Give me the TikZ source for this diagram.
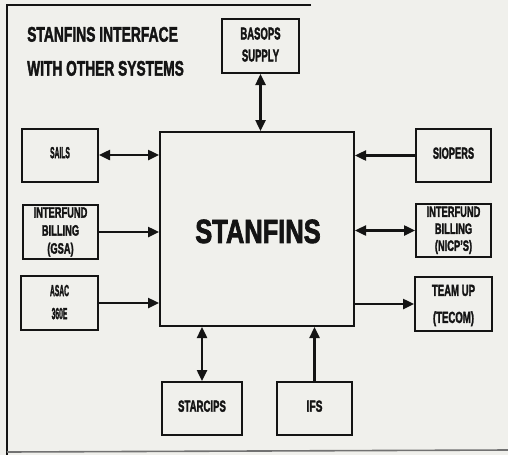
\documentclass[tikz,border=0pt]{standalone}
\usepackage{fontspec}
\setmainfont{Liberation Sans}[BoldFeatures={FakeBold=2.5}]
\usetikzlibrary{arrows.meta}
\definecolor{paper}{RGB}{240,240,236}
\definecolor{ink}{RGB}{20,20,20}
\newcommand\ml[4]{\scalebox{#1}[1]{\fontsize{#2}{#3}\selectfont\bfseries\begin{tabular}{@{}c@{}}#4\end{tabular}}}
\begin{document}
\begin{tikzpicture}[x=1pt,y=-1pt,
  box/.style={draw=ink, line width=2pt, inner sep=0pt, text=ink},
  link/.style={draw=ink, line width=2.4pt},
  onetip/.style={link, -{Triangle[length=11pt,width=10pt]}},
  twotip/.style={link, {Triangle[length=11pt,width=10pt]}-{Triangle[length=11pt,width=10pt]}},
  frameline/.style={draw=ink, line width=1.6pt}]
\fill[paper] (0,0) rectangle (508,455);
\useasboundingbox (0,0) rectangle (508,455);
% frame
\coordinate (ftl) at (7,5);
\coordinate (ftr) at (311,5);
\coordinate (fbl) at (7,455);
\coordinate (fbb) at (7,452);
\coordinate (fbr) at (508,450);
\draw[frameline] (ftr) -- (ftl) -- (fbl);
\draw[frameline, draw=ink!60] (fbb) -- (fbr);
% title
\node[anchor=base west, inner sep=0pt, text=ink] (t1) at (27,42) {\ml{0.66}{21}{24}{STANFINS INTERFACE}};
\node[anchor=base west, inner sep=0pt, text=ink] (t2) at (27,76) {\ml{0.655}{21}{24}{WITH OTHER SYSTEMS}};
% central box
\node[box, minimum width=194pt, minimum height=194pt] (stanfins) at (257,229) {};
\node[anchor=base, inner sep=0pt, text=ink] (stanlabel) at (258,242) {\ml{0.76}{33.5}{36}{STANFINS}};
% boxes
\node[box, minimum width=77pt, minimum height=54pt] (basops) at (260.5,46) {\ml{0.56}{17}{22}{BASOPS\\SUPPLY}};
\node[box, minimum width=76pt, minimum height=53pt] (sails) at (60,155) {\ml{0.42}{16}{16}{SAILS}};
\node[box, minimum width=75pt, minimum height=52pt] (gsa) at (60.5,232) {\ml{0.62}{15}{18}{INTERFUND\\BILLING\\(GSA)}};
\node[box, minimum width=77pt, minimum height=54pt] (asac) at (59.5,303) {\ml{0.42}{16}{23}{ASAC\\360E}};
\node[box, minimum width=75pt, minimum height=53pt] (siopers) at (453.5,155.5) {\ml{0.58}{16}{16}{SIOPERS}};
\node[box, minimum width=75pt, minimum height=53pt] (nicp) at (453.5,230.5) {\ml{0.62}{15}{17}{INTERFUND\\BILLING\\(NICP'S)}};
\node[box, minimum width=77pt, minimum height=54pt] (teamup) at (453.5,304) {\ml{0.6}{16}{27}{TEAM UP\\(TECOM)}};
\node[box, minimum width=80pt, minimum height=53pt] (starcips) at (202,408.5) {\ml{0.6}{16}{16}{STARCIPS}};
\node[box, minimum width=75pt, minimum height=53pt] (ifs) at (314.5,408.5) {\ml{0.64}{16}{16}{IFS}};
% connectors
\draw[twotip] (basops.south) -- (basops.south |- stanfins.north);
\draw[twotip] (sails.east) -- (sails.east -| stanfins.west);
\draw[onetip] (gsa.east) -- (gsa.east -| stanfins.west);
\draw[onetip] (asac.east) -- (asac.east -| stanfins.west);
\draw[onetip] (siopers.west) -- (siopers.west -| stanfins.east);
\draw[twotip] (nicp.west -| stanfins.east) -- (nicp.west);
\draw[onetip] (teamup.west -| stanfins.east) -- (teamup.west);
\draw[twotip] (starcips.north) -- (starcips.north |- stanfins.south);
\draw[onetip] (ifs.north) -- (ifs.north |- stanfins.south);
\end{tikzpicture}
\end{document}
